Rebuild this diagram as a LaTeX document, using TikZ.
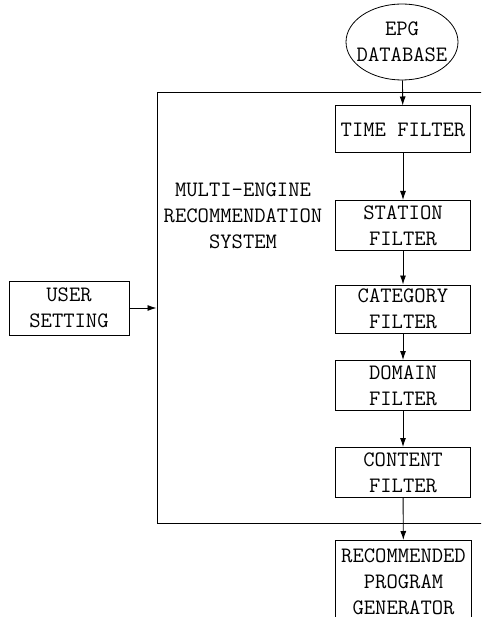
\documentclass[tikz,border=0pt]{standalone}
\usepackage{fontspec}
\usetikzlibrary{shapes.geometric,arrows.meta}

\begin{document}
\begin{tikzpicture}[x=1pt, y=-1pt, line width=1pt,
    boxfont/.style={font=\ttfamily\addfontfeature{FakeBold=0.6}\fontsize{22}{26}\selectfont},
    filterbox/.style={draw, rectangle, boxfont, align=center, inner sep=0pt,
        minimum width=135pt, minimum height=50pt},
    link/.style={-{Latex[length=9pt,width=6pt]}, line width=0.9pt}]
            \clip (0,0) rectangle (481,617);
            % outer system frame, runs past the right edge
            \node[draw, rectangle, minimum width=340pt, minimum height=430pt] (mres) at (327,308) {};
            \node[boxfont, align=center] (title) at (243,216) {MULTI-ENGINE\\RECOMMENDATION\\SYSTEM};
            % EPG source
            \node[draw, ellipse, line width=0.8pt, minimum width=112pt, minimum height=76pt] (epg) at (402,42) {};
            \node[boxfont, align=center] (epgtext) at (epg) {EPG\\DATABASE};
            % filter chain
            \node[filterbox, minimum height=47pt] (time) at (403,129.5) {TIME FILTER};
            \node[filterbox] (station) at (403,225.5) {STATION\\FILTER};
            \node[filterbox, minimum height=48pt] (category) at (403,309) {CATEGORY\\FILTER};
            \node[filterbox] (domain) at (403,385.5) {DOMAIN\\FILTER};
            \node[filterbox] (content) at (403,472.5) {CONTENT\\FILTER};
            \node[filterbox, minimum width=136pt, minimum height=82pt, anchor=north] (rec) at (403.5,540) {RECOMMENDED\\PROGRAM\\GENERATOR};
            % user input
            \node[filterbox, minimum width=120pt, minimum height=54pt] (user) at (69,308) {USER\\SETTING};
            % Connectors
            \draw[link] (epg) -- (time);
            \draw[link] (time) -- (station);
            \draw[link] (station) -- (category);
            \draw[link] (category) -- (domain);
            \draw[link] (domain) -- (content);
            \draw[link] (content) -- (rec);
            \draw[link] (user) -- (mres);
        \end{tikzpicture}
\end{document}
